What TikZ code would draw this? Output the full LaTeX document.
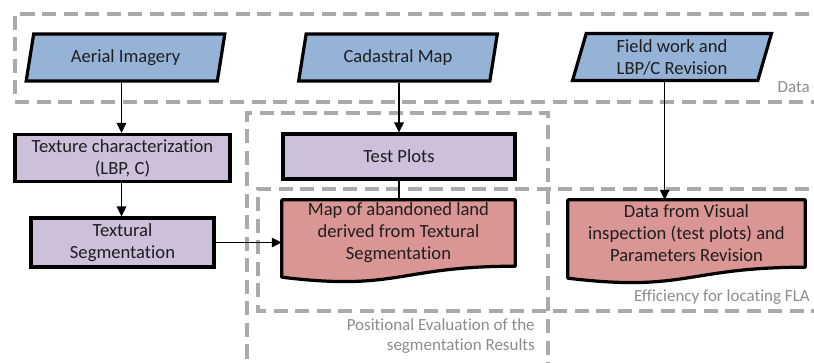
\documentclass[tikz,border=0pt]{standalone}
\usepackage{fontspec}
\setmainfont{Carlito}[Ligatures={NoCommon}]
\usetikzlibrary{shapes.geometric,arrows.meta,backgrounds}

\definecolor{datablue}{RGB}{149,179,215}
\definecolor{procpurple}{RGB}{204,192,218}
\definecolor{docred}{RGB}{218,150,148}
\definecolor{framegray}{RGB}{170,170,170}
\definecolor{labelgray}{RGB}{140,140,140}
\definecolor{inktext}{RGB}{30,30,30}

\tikzset{
  inputbox/.style={shape=trapezium, trapezium left angle=77, trapezium right angle=103,
    trapezium stretches=true, draw=black, line width=3.2pt, fill=datablue,
    minimum width=199pt, minimum height=47pt, align=center, inner sep=2pt, text=inktext},
  procbox/.style={rectangle, draw=black, line width=3.2pt, fill=procpurple,
    minimum height=47pt, align=center, inner sep=2pt, text=inktext},
  docbox/.style={rectangle, align=center, inner sep=2pt, text=inktext},
  docshape/.style={draw=black, line width=3.2pt, fill=docred, line join=round},
  groupframe/.style={draw=framegray, line width=3.4pt, dash pattern=on 14pt off 7.5pt},
  grouplabel/.style={text=labelgray, font=\fontsize{17}{19.5}\selectfont, align=right, inner sep=0pt},
  flow/.style={line width=1.5pt, -{Triangle[length=10pt,width=9.5pt]}},
  plainlink/.style={line width=1.5pt},
}

\begin{document}
\begin{tikzpicture}[x=1pt, y=-1pt, font=\fontsize{18.6}{22}\selectfont]
\useasboundingbox (0,0) rectangle (814,363);

% input data
\node[inputbox] (aer) at (125.5,57.5) {Aerial Imagery};
\node[inputbox] (cad) at (398,57.5) {Cadastral Map};
\node[inputbox] (fw)  at (672,57) {Field work and\\LBP/C Revision};

% processing steps
\node[procbox, minimum width=215pt] (tex) at (122.5,158) {Texture characterization\\(LBP, C)};
\node[procbox, minimum width=183pt, minimum height=49pt] (ts) at (122.5,242.5) {Textural\\Segmentation};
\node[procbox, minimum width=232pt, minimum height=45pt] (tp) at (399,156.5) {Test Plots};

% result documents (text part; the wavy outline goes underneath)
\node[docbox, minimum width=233pt, minimum height=66pt] (map) at (398.5,233)
  {Map of abandoned land\\derived from Textural\\Segmentation};
\node[docbox, minimum width=237pt, minimum height=67pt] (dd) at (686.5,233.5)
  {Data from Visual\\inspection (test plots) and\\Parameters Revision};

\begin{pgfonlayer}{background}
  % group frames
  \draw[groupframe] (830,14) -- (15,14) -- (15,102) -- (830,102);
  \draw[groupframe] (247,380) -- (247,113) -- (548,113) -- (548,380);
  \draw[groupframe] (830,189) -- (258,189) -- (258,311) -- (830,311);
  % document outlines with wavy bottoms
  \foreach \d in {map,dd}{
    \draw[docshape] (\d.north west) -- (\d.north east) -- (\d.south east)
      .. controls (\d.south) and ([yshift=-25.3pt]\d.south) .. ([yshift=-11pt]\d.south west)
      -- cycle;
  }
\end{pgfonlayer}

% group labels
\node[grouplabel, anchor=east] (lbdata) at (810,87) {Data};
\node[grouplabel, anchor=east] (lbeff) at (810,297) {Efficiency for locating FLA};
\node[grouplabel, anchor=east] (lbpos) at (535,336) {Positional Evaluation of the\\segmentation Results};

% connectors
\draw[flow] (aer.bottom side) -- (aer.bottom side |- tex.north);
\draw[flow] (aer.bottom side |- tex.south) -- (aer.bottom side |- ts.north);
\draw[flow] (tp.north |- cad.bottom side) -- (tp.north);
\draw[plainlink] (tp.south) -- (tp.south |- map.north);
\draw[flow] (ts.east) -- (ts.east -| map.west);
\draw[flow] (fw.bottom side) -- (fw.bottom side |- dd.north);
\end{tikzpicture}
\end{document}
